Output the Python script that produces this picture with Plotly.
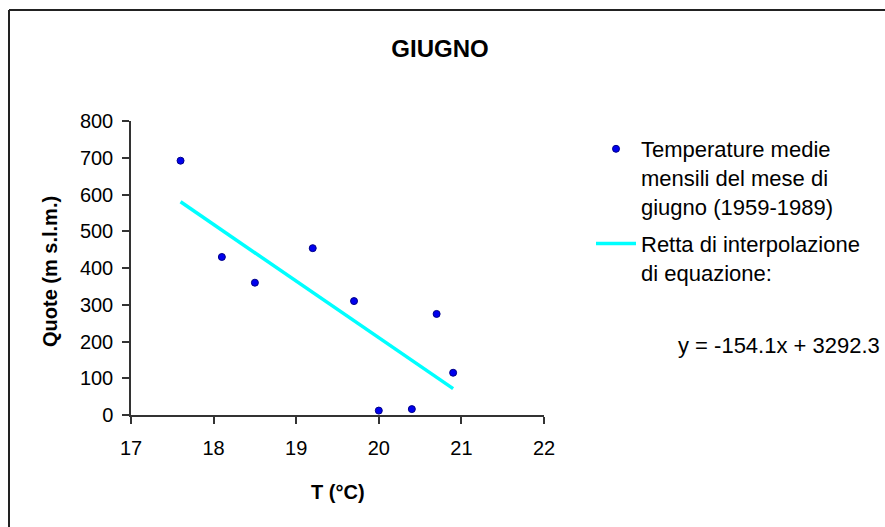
import plotly.graph_objects as go

# Data
temp_c = [17.6, 18.1, 18.5, 19.2, 19.7, 20.0, 20.4, 20.7, 20.9]
quote_m = [692, 430, 360, 454, 310, 12, 16, 275, 115]
slope = -154.1
intercept = 3292.3
fit_x = [min(temp_c), max(temp_c)]
fit_y = [slope * x + intercept for x in fit_x]

title_text = "GIUGNO"
x_title = "T (°C)"
y_title = "Quote (m s.l.m.)"
series_names = ["Temperature medie<br>mensili del mese di<br>giugno (1959-1989)",
                "Retta di interpolazione<br>di equazione:"]
equation_text = "y = -154.1x + 3292.3"
x_ticks = [17, 18, 19, 20, 21, 22]
y_ticks = [0, 100, 200, 300, 400, 500, 600, 700, 800]

FONT = "Liberation Sans, Arial, sans-serif"
W, H = 885, 527
L, R, T, B = 131, 341, 121, 112
pw, ph = W - L - R, H - T - B

def px_x(p):
    return (p - L) / pw

def px_y(p):
    return (H - B - p) / ph

fig = go.Figure()
fig.add_trace(go.Scatter(
    x=temp_c, y=quote_m, mode="markers", name=series_names[0], legendgroup="a",
    marker=dict(color="#0000EE", size=7, line=dict(color="#000088", width=1)),
    cliponaxis=False,
))
fig.add_trace(go.Scatter(
    x=fit_x, y=fit_y, mode="lines", name=series_names[1], legendgroup="b",
    line=dict(color="#00FFFF", width=3.5),
))

fig.update_layout(
    width=W, height=H,
    margin=dict(l=L, r=R, t=T, b=B),
    paper_bgcolor="white", plot_bgcolor="white",
    font=dict(family=FONT, color="black", size=20),
    title=dict(text="<b>" + title_text + "</b>", x=440 / W, xanchor="center",
               y=1 - 49 / H, yanchor="middle", yref="container",
               font=dict(size=24, family=FONT, color="black")),
    showlegend=True,
    legend=dict(x=px_x(591), y=px_y(128), xanchor="left", yanchor="top",
                font=dict(size=22, family=FONT), valign="top", itemwidth=40,
                bgcolor="rgba(0,0,0,0)", tracegroupgap=6),
    xaxis=dict(range=[17, 22], tickvals=x_ticks, ticktext=[str(v) for v in x_ticks],
               showgrid=False, zeroline=False, showline=True, linecolor="#333",
               linewidth=1.5, ticks="outside", ticklen=7, tickcolor="#333",
               tickwidth=1.5, tickfont=dict(size=20), ticklabelstandoff=7),
    yaxis=dict(range=[0, 800], tickvals=y_ticks, ticktext=[str(v) for v in y_ticks],
               showgrid=False, zeroline=False, showline=True, linecolor="#333",
               linewidth=1.5, ticks="outside", ticklen=7, tickcolor="#333",
               tickwidth=1.5, tickfont=dict(size=20), ticklabelstandoff=5),
)

fig.add_annotation(text="<b>" + y_title + "</b>", xref="paper", yref="paper",
                   x=px_x(50), y=px_y(272), textangle=-90, showarrow=False,
                   font=dict(size=20, family=FONT), xanchor="center", yanchor="middle")
fig.add_annotation(text="<b>" + x_title + "</b>", xref="paper", yref="paper",
                   x=px_x(338), y=px_y(492), showarrow=False,
                   font=dict(size=20, family=FONT), xanchor="center", yanchor="middle")
fig.add_annotation(text=equation_text, xref="paper", yref="paper",
                   x=px_x(882), y=px_y(345), showarrow=False,
                   font=dict(size=22, family=FONT), xanchor="right", yanchor="middle")

# outer chart border (top and left edges visible)
fig.add_shape(type="line", xref="paper", yref="paper",
              x0=px_x(9), y0=px_y(10), x1=px_x(900), y1=px_y(10),
              line=dict(color="#222", width=2))
fig.add_shape(type="line", xref="paper", yref="paper",
              x0=px_x(9), y0=px_y(10), x1=px_x(9), y1=px_y(540),
              line=dict(color="#222", width=2))

fig.write_html("out.html")
